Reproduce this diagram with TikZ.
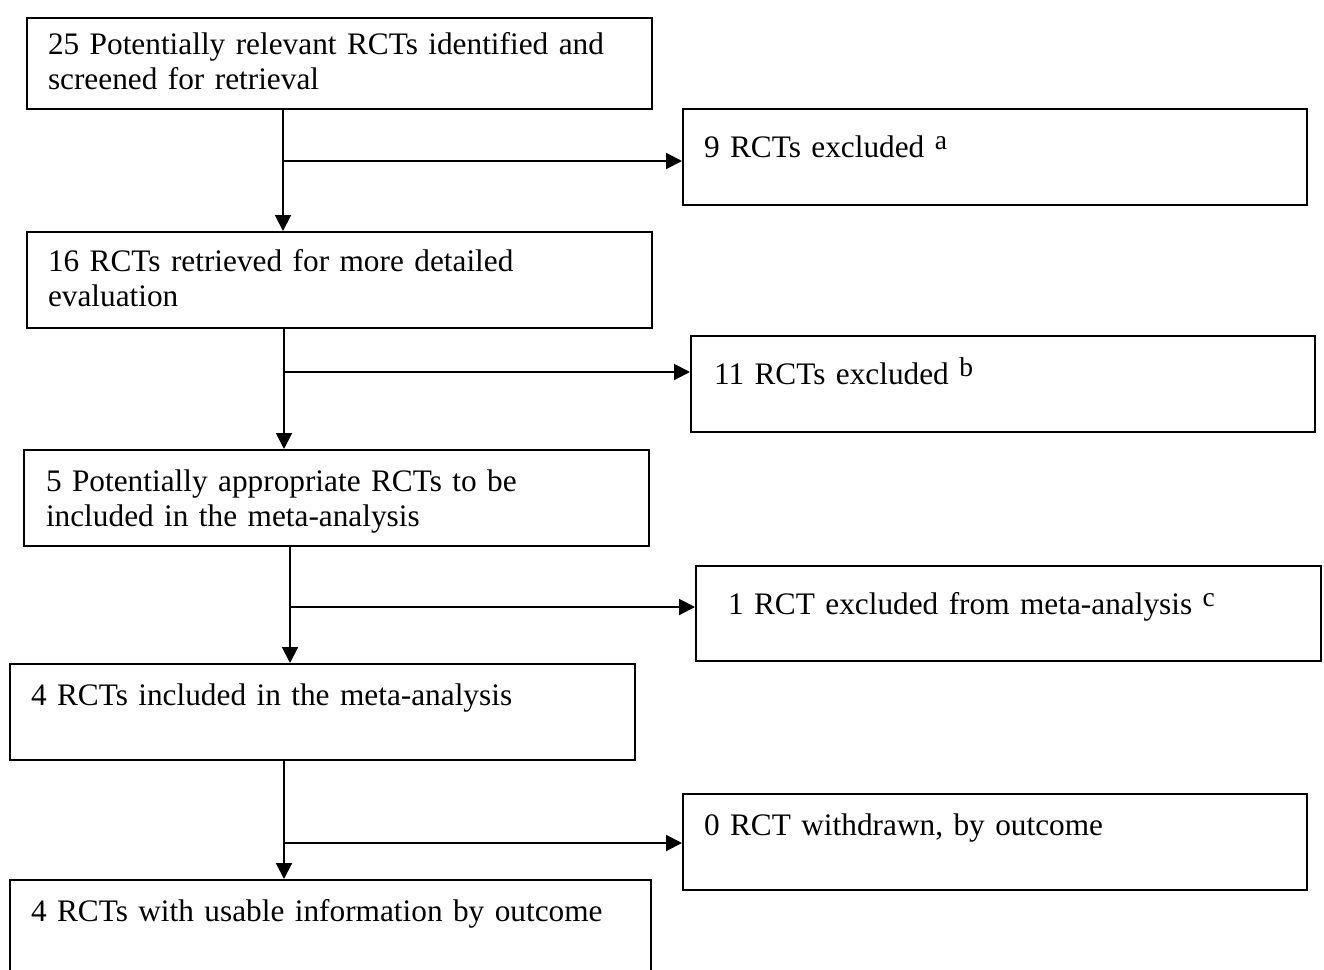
\documentclass[tikz,border=0pt]{standalone}
\usepackage{fontspec}
\setmainfont{Liberation Serif}
\usetikzlibrary{arrows.meta}
\newcommand\fnmark[1]{~\raisebox{8pt}{\fontsize{27.5}{28}\selectfont #1}}
\begin{document}
\begin{tikzpicture}[x=1pt,y=-1pt,
  box/.style={draw, line width=2pt, anchor=north west, inner ysep=0pt, align=left,
              font=\fontsize{31.3}{35.5}\selectfont},
  arr/.style={line width=2pt, -{Triangle[length=16pt,width=16pt]}}]
\clip (0,0) rectangle (1324,969);
\useasboundingbox (0,0) rectangle (1324,969);

\node[box, inner xsep=21pt, text width=583pt, text height=36pt, text depth=55pt] (b1) at (26,17)
  {25 Potentially relevant RCTs identified and\\screened for retrieval};
\node[box, inner xsep=21pt, text width=582pt, text height=48pt, text depth=48pt] (A) at (682,108)
  {9 RCTs excluded\fnmark{a}};
\node[box, inner xsep=21pt, text width=583pt, text height=39pt, text depth=57pt] (b2) at (26,231)
  {16 RCTs retrieved for more detailed\\evaluation};
\node[box, inner xsep=23pt, text width=578pt, text height=48pt, text depth=48pt] (B) at (690,335)
  {11 RCTs excluded\fnmark{b}};
\node[box, inner xsep=22pt, text width=581pt, text height=41pt, text depth=55pt] (b3) at (23,449)
  {5 Potentially appropriate RCTs to be\\included in the meta-analysis};
\node[box, inner xsep=32pt, text width=561pt, text height=48pt, text depth=47pt] (C) at (695,565)
  {1 RCT excluded from meta-analysis\fnmark{c}};
\node[box, inner xsep=21pt, text width=583pt, text height=41pt, text depth=55pt] (b4) at (9,663)
  {4 RCTs included in the meta-analysis};
\node[box, inner xsep=21pt, text width=582pt, text height=41pt, text depth=55pt] (D) at (682,793)
  {0 RCT withdrawn, by outcome};
\node[box, inner xsep=21pt, text width=599pt, text height=41pt, text depth=109pt] (b5) at (9,879)
  {4 RCTs with usable information by outcome};

\coordinate (j1) at (283,161);
\coordinate (j2) at (284,372);
\coordinate (j3) at (290,607);
\coordinate (j4) at (284,843);

\draw[arr] (j1 |- b1.south) -- (j1 |- b2.north);
\draw[arr] (j1) -- (j1 -| A.west);
\draw[arr] (j2 |- b2.south) -- (j2 |- b3.north);
\draw[arr] (j2) -- (j2 -| B.west);
\draw[arr] (j3 |- b3.south) -- (j3 |- b4.north);
\draw[arr] (j3) -- (j3 -| C.west);
\draw[arr] (j4 |- b4.south) -- (j4 |- b5.north);
\draw[arr] (j4) -- (j4 -| D.west);
\end{tikzpicture}
\end{document}
